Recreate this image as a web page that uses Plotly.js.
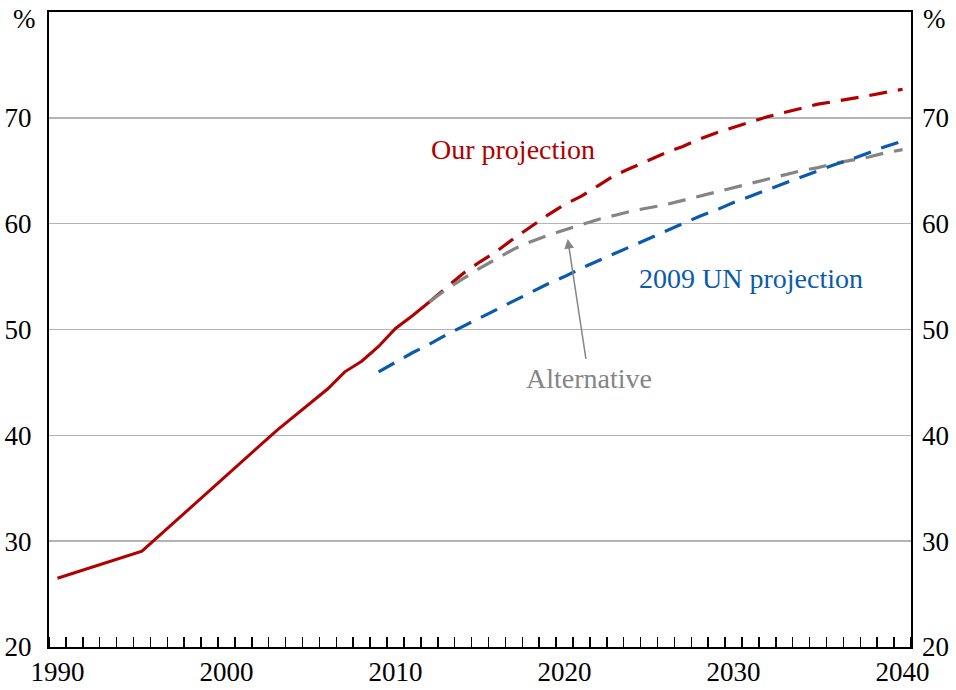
<!DOCTYPE html>
<html>
<head>
<meta charset="utf-8">
<script src="https://cdn.plot.ly/plotly-3.0.1.min.js"></script>
<style>html,body{margin:0;padding:0;background:#fff;}#chart{width:956px;height:690px;}</style>
</head>
<body>
<div id="chart"></div>
<script>
// ---- data ----
var histYears = [1990, 1995, 2003, 2004, 2005, 2006, 2007, 2008, 2009, 2010, 2011, 2012];
var histValues = [26.5, 29.05, 40.5, 41.8, 43.1, 44.4, 46.0, 47.0, 48.4, 50.1, 51.3, 52.6];

var projYears = [2012, 2013, 2014, 2015, 2016, 2017, 2018, 2019, 2020, 2021, 2022, 2023, 2024, 2025, 2026, 2027, 2028, 2029, 2030, 2031, 2032, 2033, 2034, 2035, 2036, 2037, 2038, 2039, 2040];
var ourProjection = [52.6, 54.0, 55.3, 56.4, 57.4, 58.6, 59.7, 60.8, 61.8, 62.6, 63.6, 64.6, 65.3, 66.0, 66.7, 67.3, 68.0, 68.6, 69.1, 69.6, 70.1, 70.5, 70.9, 71.3, 71.55, 71.8, 72.1, 72.4, 72.7];
var altProjection = [52.6, 53.8, 54.8, 55.8, 56.7, 57.6, 58.3, 58.9, 59.4, 59.9, 60.4, 60.8, 61.2, 61.5, 61.8, 62.2, 62.6, 63.0, 63.4, 63.8, 64.2, 64.6, 65.0, 65.3, 65.7, 66.0, 66.3, 66.7, 67.0];

var unYears = [2009, 2010, 2011, 2012, 2013, 2014, 2015, 2016, 2017, 2018, 2019, 2020, 2021, 2022, 2023, 2024, 2025, 2026, 2027, 2028, 2029, 2030, 2031, 2032, 2033, 2034, 2035, 2036, 2037, 2038, 2039, 2040];
var unProjection = [46.0, 46.9, 47.8, 48.6, 49.5, 50.3, 51.1, 51.9, 52.7, 53.5, 54.3, 55.0, 55.8, 56.5, 57.2, 57.9, 58.6, 59.3, 60.0, 60.7, 61.3, 62.0, 62.6, 63.2, 63.8, 64.4, 65.0, 65.6, 66.1, 66.7, 67.3, 67.8];

var xLabelYears = [1990, 2000, 2010, 2020, 2030, 2040];
var xLabelText = ['1990', '2000', '2010', '2020', '2030', '2040'];
var yTickVals = [20, 30, 40, 50, 60, 70];
var yTickText = ['20', '30', '40', '50', '60', '70'];

// ---- styles ----
var RED = '#b00000', BLUE = '#0a5aae', GRAY = '#858585';
var FONT = 'Liberation Serif, Times New Roman, serif';
var DASH = '18px,11px';

var traces = [
  {x: histYears, y: histValues, type: 'scatter', mode: 'lines', line: {color: RED, width: 3}, hoverinfo: 'skip'},
  {x: projYears, y: ourProjection, type: 'scatter', mode: 'lines', line: {color: RED, width: 3.2, dash: DASH}, hoverinfo: 'skip'},
  {x: projYears, y: altProjection, type: 'scatter', mode: 'lines', line: {color: GRAY, width: 3.2, dash: DASH}, hoverinfo: 'skip'},
  {x: unYears, y: unProjection, type: 'scatter', mode: 'lines', line: {color: BLUE, width: 3.2, dash: DASH}, hoverinfo: 'skip'},
  {x: [], y: [], type: 'scatter', mode: 'lines', yaxis: 'y2', hoverinfo: 'skip'}
];

var layout = {
  width: 956, height: 690,
  margin: {l: 49, r: 45, t: 12, b: 43, pad: 0},
  paper_bgcolor: '#ffffff', plot_bgcolor: '#ffffff',
  showlegend: false,
  font: {family: FONT, size: 27, color: '#000'},
  xaxis: {
    range: [1989.5, 2040.5], fixedrange: true,
    tickmode: 'array', tickvals: xLabelYears, ticktext: xLabelText,
    ticks: '', ticklabelstandoff: 0,
    showgrid: false, zeroline: false,
    showline: true, linecolor: '#000', linewidth: 2, mirror: true,
    minor: {tickmode: 'linear', tick0: 1989.5, dtick: 1, ticks: 'inside', ticklen: 10, tickwidth: 1.5, tickcolor: '#000', showgrid: false},
    tickfont: {family: FONT, size: 27, color: '#000'}
  },
  yaxis: {
    range: [20, 80], fixedrange: true,
    tickmode: 'array', tickvals: yTickVals, ticktext: yTickText,
    ticks: '', ticklabelstandoff: 10,
    showgrid: true, gridcolor: '#b4b4b4', gridwidth: 1.5, zeroline: false,
    showline: true, linecolor: '#000', linewidth: 2, mirror: true,
    tickfont: {family: FONT, size: 27, color: '#000'}
  },
  yaxis2: {
    range: [20, 80], fixedrange: true, overlaying: 'y', side: 'right', anchor: 'x',
    tickmode: 'array', tickvals: yTickVals, ticktext: yTickText,
    ticks: '', ticklabelstandoff: 10,
    showgrid: false, zeroline: false, showline: false,
    tickfont: {family: FONT, size: 27, color: '#000'}
  },
  annotations: [
    {xref: 'paper', yref: 'y', x: -0.029, y: 79.3, text: '%', showarrow: false, xanchor: 'center', yanchor: 'middle', font: {family: FONT, size: 27, color: '#000'}},
    {xref: 'paper', yref: 'y', x: 1.027, y: 79.3, text: '%', showarrow: false, xanchor: 'center', yanchor: 'middle', font: {family: FONT, size: 27, color: '#000'}},
    {x: 2016.93, y: 66.98, text: 'Our projection', showarrow: false, xanchor: 'center', yanchor: 'middle', font: {family: FONT, size: 28, color: RED}},
    {x: 2031.04, y: 54.81, text: '2009 UN projection', showarrow: false, xanchor: 'center', yanchor: 'middle', font: {family: FONT, size: 28, color: BLUE}},
    {x: 2021.42, y: 45.38, text: 'Alternative', showarrow: false, xanchor: 'center', yanchor: 'middle', font: {family: FONT, size: 28, color: GRAY}},
    {x: 2020.19, y: 58.56, ax: 2021.28, ay: 47.08, axref: 'x', ayref: 'y', text: '', showarrow: true, arrowhead: 2, arrowsize: 1.3, arrowwidth: 1.5, arrowcolor: GRAY, standoff: 0}
  ]
};

Plotly.newPlot('chart', traces, layout, {staticPlot: true, displayModeBar: false});
</script>
</body>
</html>
